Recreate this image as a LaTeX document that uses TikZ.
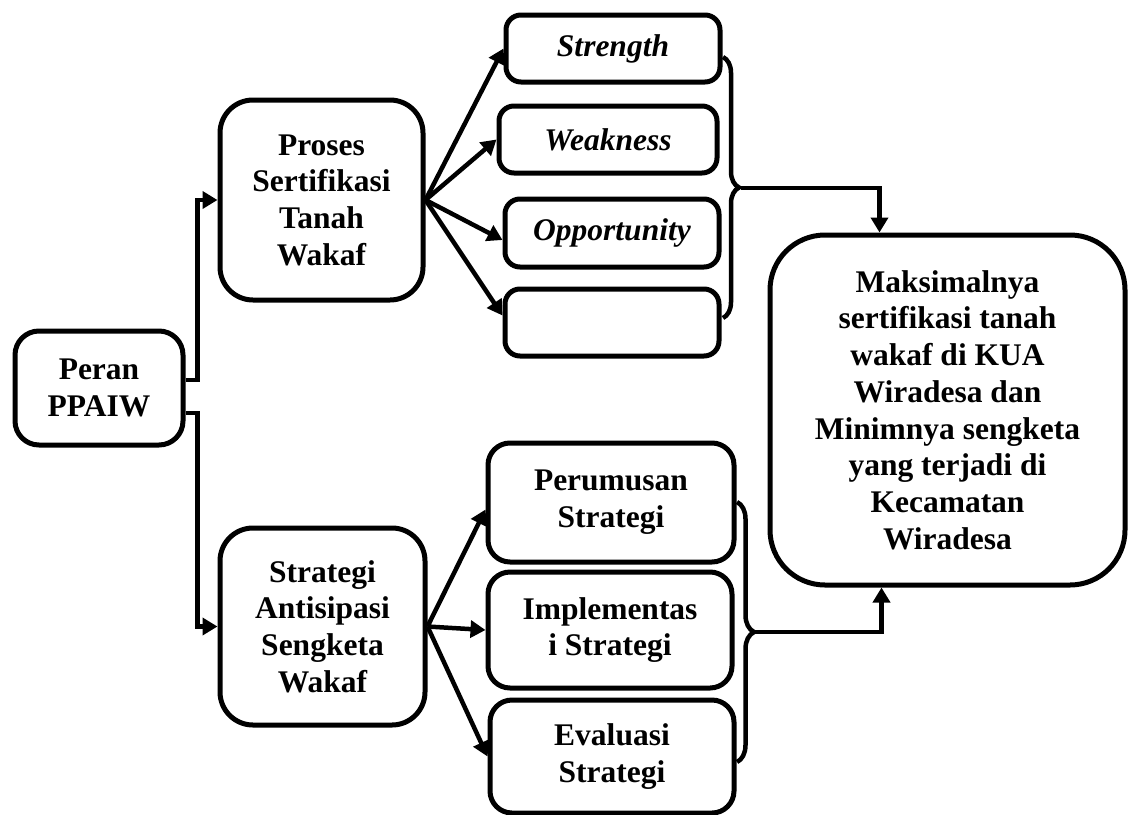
\documentclass[tikz,border=0pt]{standalone}
\usepackage{fontspec}
\setmainfont{Liberation Serif}
\usetikzlibrary{arrows.meta,decorations.pathreplacing}
\begin{document}
\begin{tikzpicture}[x=1pt,y=-1pt,
  box/.style={draw, line width=5pt, rounded corners=#1, align=center, inner sep=0pt,
    font=\fontsize{31.5}{36.7}\selectfont\bfseries},
  box/.default=15pt,
  sz/.style 2 args={minimum width=#1pt, minimum height=#2pt},
  conn/.style={line width=4.5pt, -{Triangle[length=15pt,width=17pt]}},
  brc/.style={line width=4.5pt, decorate, decoration={brace, amplitude=#1, aspect=0.5}},
]
\useasboundingbox (0,0) rectangle (1134,814);

% nodes
\node[box=24pt, sz={168}{114}] (peran) at (99,388) {Peran\\PPAIW};
\node[box=33pt, sz={203}{200}] (proses) at (321.5,200) {Proses\\Sertifikasi\\Tanah\\Wakaf};
\node[box=33pt, sz={205}{197}] (strategi) at (322.5,626.5) {Strategi\\Antisipasi\\Sengketa\\Wakaf};

\node[box, sz={214}{67}] (strength) at (613,48.5) {\itshape Strength};
\node[box, sz={218}{67}] (weakness) at (608,139.5) {\itshape Weakness};
\node[box, sz={214}{68}] (opportunity) at (612,233) {\itshape Opportunity};
\node[box, sz={214}{67}] (empty) at (612,322.5) {};

\node[box=22pt, sz={246}{119}] (perumusan) at (611,502.5) {Perumusan\\Strategi};
\node[box=22pt, sz={244}{116}] (impl) at (610,630) {Implementas\\i Strategi};
\node[box=22pt, sz={244}{113}] (eval) at (612,756.5) {Evaluasi\\Strategi};

\node[box=55pt, sz={355}{350}] (final) at (947.5,410)
  {Maksimalnya\\sertifikasi tanah\\wakaf di KUA\\Wiradesa dan\\Minimnya sengketa\\yang terjadi di\\Kecamatan\\Wiradesa};

% connectors from Peran
\draw[conn] ([yshift=8pt]peran.east) -- ++(12,0) |- (proses.west);
\draw[conn] ([yshift=-25pt]peran.east) -- ++(12,0) |- (strategi.west);

% fan from Proses
\draw[conn] (proses.east) -- (strength.west);
\draw[conn] (proses.east) -- (weakness.west);
\draw[conn] (proses.east) -- ([yshift=-7pt]opportunity.west);
\draw[conn] (proses.east) -- ([yshift=7pt]empty.west);

% fan from Strategi
\draw[conn] (strategi.east) -- ([yshift=-7pt]perumusan.west);
\draw[conn] (strategi.east) -- (impl.west);
\draw[conn] (strategi.east) -- (eval.west);

% braces
\draw[brc=16pt] (723,57) -- (723,318);
\draw[brc=17pt] (737,502) -- (737,762);
\coordinate (b1) at (741,188);
\coordinate (b2) at (755,632);

% to final
\draw[conn] (b1) -| ([xshift=-68pt]final.north);
\draw[conn] (b2) -| ([xshift=-66pt]final.south);
\end{tikzpicture}
\end{document}
